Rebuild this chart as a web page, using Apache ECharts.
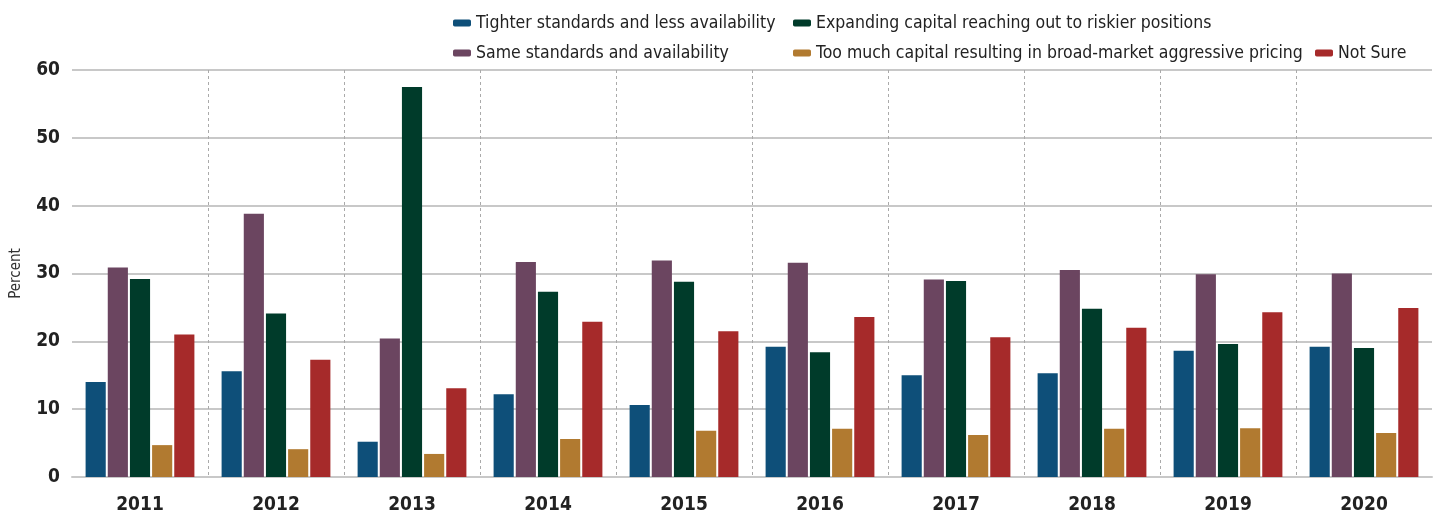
<!DOCTYPE html>
<html>
<head>
<meta charset="utf-8">
<script src="https://cdn.jsdelivr.net/npm/echarts@6/dist/echarts.min.js"></script>
<style>
  html, body { margin: 0; padding: 0; background: #fff; }
  #chart { width: 1439px; height: 515px; }
</style>
</head>
<body>
<div id="chart"></div>
<script>
// survey answers by year, percent
const years = ['2011', '2012', '2013', '2014', '2015', '2016', '2017', '2018', '2019', '2020'];
const tighter = [14.0, 15.6, 5.2, 12.2, 10.6, 19.2, 15.0, 15.3, 18.6, 19.2];
const same = [30.9, 38.8, 20.4, 31.7, 31.9, 31.6, 29.1, 30.5, 29.9, 30.0];
const expanding = [29.2, 24.1, 57.5, 27.3, 28.8, 18.4, 28.9, 24.8, 19.6, 19.0];
const tooMuch = [4.7, 4.1, 3.4, 5.6, 6.8, 7.1, 6.2, 7.1, 7.2, 6.5];
const notSure = [21.0, 17.3, 13.1, 22.9, 21.5, 23.6, 20.6, 22.0, 24.3, 24.9];

const names = [
  'Tighter standards and less availability',
  'Same standards and availability',
  'Expanding capital reaching out to riskier positions',
  'Too much capital resulting in broad-market aggressive pricing',
  'Not Sure'
];
const colors = ['#0e4f79', '#6b4560', '#003b2a', '#b17a30', '#a62a2a'];
const values = [tighter, same, expanding, tooMuch, notSure];

const font = '"Liberation Sans Narrow", "DejaVu Sans Condensed", "Roboto", sans-serif';

const chart = echarts.init(document.getElementById('chart'));

function legendAt(data, left, top) {
  return {
    data: data,
    orient: 'vertical',
    left: left,
    top: top,
    itemGap: 12,
    icon: 'roundRect',
    itemWidth: 18,
    itemHeight: 7,
    textStyle: { fontFamily: font, fontSize: 17.5, color: '#222' }
  };
}

const option = {
  animation: false,
  color: colors,
  textStyle: { fontFamily: font },
  legend: [
    legendAt([names[0], names[1]], 448, 9),
    legendAt([names[2], names[3]], 788, 9),
    legendAt([names[4]], 1310, 39)
  ],
  grid: { left: 72, right: 7, top: 70, bottom: 38 },
  xAxis: {
    type: 'category',
    data: years,
    axisTick: { show: false },
    axisLine: { show: true, lineStyle: { color: '#c8c8c8', width: 2 } },
    axisLabel: {
      fontFamily: font, fontSize: 19, fontWeight: 'bold', color: '#222', margin: 19
    },
    splitLine: {
      show: true,
      showMinLine: false,
      showMaxLine: false,
      lineStyle: { color: '#aaa', type: [3, 3], width: 1 }
    }
  },
  yAxis: {
    type: 'value',
    min: 0,
    max: 60,
    interval: 10,
    name: 'Percent',
    nameLocation: 'middle',
    nameGap: 48,
    nameRotate: 90,
    nameTextStyle: { fontFamily: font, fontSize: 15, color: '#333' },
    axisLine: { show: false },
    axisTick: { show: false },
    axisLabel: {
      fontFamily: font, fontSize: 19, fontWeight: 'bold', color: '#222', margin: 12
    },
    splitLine: { lineStyle: { color: '#c8c8c8', width: 2 } }
  },
  series: names.map(function (n, i) {
    return {
      name: n,
      type: 'bar',
      data: values[i],
      barGap: '10%',
      barCategoryGap: '20%',
      itemStyle: { color: colors[i] }
    };
  })
};

chart.setOption(option);
</script>
</body>
</html>
